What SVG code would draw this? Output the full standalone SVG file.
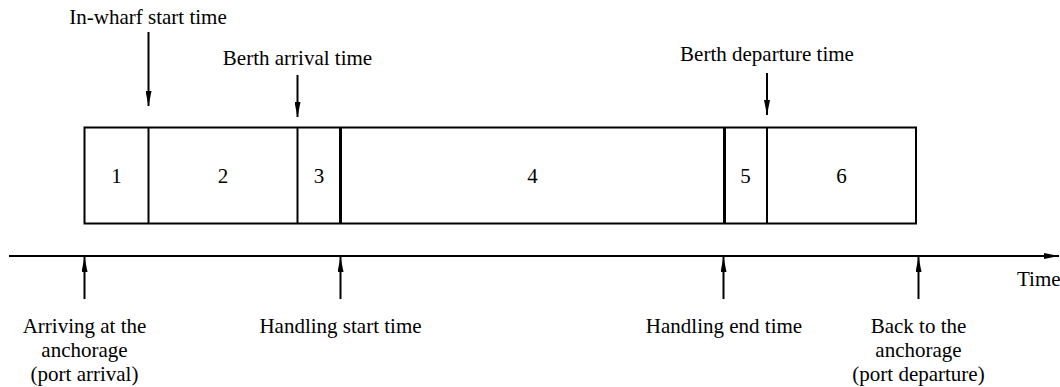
<svg xmlns="http://www.w3.org/2000/svg" width="1060" height="387" viewBox="0 0 1060 387">
<style>
text{font-family:"Liberation Serif","Times New Roman",serif;font-size:21px;fill:#000;text-anchor:middle}
.ln{stroke:#000;stroke-width:2;fill:none}
.thick{stroke:#000;stroke-width:3;fill:none}
</style>
<defs>
<marker id="ah" markerWidth="16" markerHeight="6" refX="15" refY="3" orient="auto" markerUnits="userSpaceOnUse">
<path d="M0,0 L15,3 L0,6 Z" fill="#000"/>
</marker>
</defs>
<rect width="1060" height="387" fill="#fff"/>
<g id="timeline">
<rect x="84.5" y="127.5" width="831.5" height="96" class="ln"/>
<line x1="148.5" y1="127.5" x2="148.5" y2="223.5" class="ln"/>
<line x1="297.5" y1="127.5" x2="297.5" y2="223.5" class="ln"/>
<line x1="340.5" y1="127.5" x2="340.5" y2="223.5" class="thick"/>
<line x1="724.5" y1="127.5" x2="724.5" y2="223.5" class="thick"/>
<line x1="767" y1="127.5" x2="767" y2="223.5" class="ln"/>
</g>
<g id="segments">
<text x="116.5" y="183">1</text>
<text x="223" y="183">2</text>
<text x="319" y="183">3</text>
<text x="532.5" y="183">4</text>
<text x="745.5" y="183">5</text>
<text x="841.5" y="183">6</text>
</g>
<g id="connectors">
<line x1="9" y1="256" x2="1059" y2="256" class="ln" marker-end="url(#ah)"/>
<line x1="148.5" y1="32" x2="148.5" y2="106" class="ln" marker-end="url(#ah)"/>
<line x1="297.5" y1="75" x2="297.5" y2="117" class="ln" marker-end="url(#ah)"/>
<line x1="767" y1="73" x2="767" y2="115" class="ln" marker-end="url(#ah)"/>
<line x1="84.5" y1="299" x2="84.5" y2="257" class="ln" marker-end="url(#ah)"/>
<line x1="340.5" y1="299" x2="340.5" y2="257" class="ln" marker-end="url(#ah)"/>
<line x1="723.5" y1="299" x2="723.5" y2="257" class="ln" marker-end="url(#ah)"/>
<line x1="918.5" y1="299" x2="918.5" y2="257" class="ln" marker-end="url(#ah)"/>
</g>
<g id="label-inwharf"><text x="148" y="24">In-wharf start time</text></g>
<g id="label-berth-arrival"><text x="297.5" y="65">Berth arrival time</text></g>
<g id="label-berth-departure"><text x="767" y="61">Berth departure time</text></g>
<g id="label-time"><text x="1017" y="286" style="text-anchor:start">Time</text></g>
<g id="label-arriving">
<text x="84.5" y="333">Arriving at the</text>
<text x="84.5" y="357">anchorage</text>
<text x="84.5" y="381">(port arrival)</text>
</g>
<g id="label-handling-start"><text x="340.5" y="333">Handling start time</text></g>
<g id="label-handling-end"><text x="724" y="333">Handling end time</text></g>
<g id="label-back">
<text x="918.5" y="333">Back to the</text>
<text x="918.5" y="357">anchorage</text>
<text x="918.5" y="381">(port departure)</text>
</g>
</svg>
